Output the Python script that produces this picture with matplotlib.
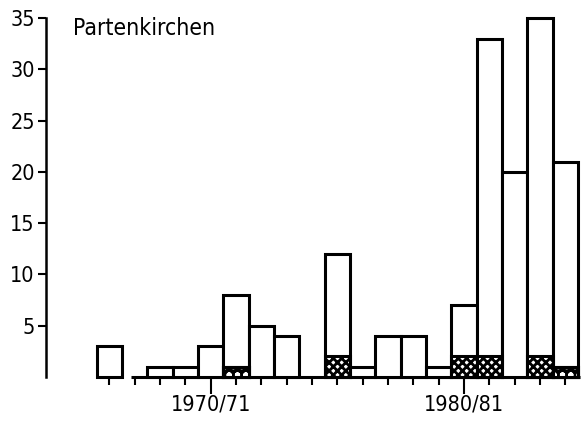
import matplotlib
matplotlib.use("Agg")
import matplotlib.pyplot as plt
from matplotlib.ticker import FixedLocator

# Season start years (1966 -> 1966/67)
seasons = [1966, 1967, 1968, 1969, 1970, 1971, 1972, 1973, 1974, 1975,
           1976, 1977, 1978, 1979, 1980, 1981, 1982, 1983, 1984]
totals = [3, 0, 1, 1, 3, 8, 5, 4, 0, 12, 1, 4, 4, 1, 7, 33, 20, 35, 21]
dense_part = [0, 0, 0, 0, 0, 0, 0, 0, 0, 2, 0, 0, 0, 0, 2, 2, 0, 2, 0]
circle_part = [0, 0, 0, 0, 0, 1, 0, 0, 0, 0, 0, 0, 0, 0, 0, 0, 0, 0, 1]
y_ticks = [5, 10, 15, 20, 25, 30, 35]
x_major = [1970, 1980]
x_major_labels = ["1970/71", "1980/81"]
title = "Partenkirchen"

plt.rcParams['font.family'] = ['DejaVu Sans']
plt.rcParams['font.stretch'] = 'condensed'

fig = plt.figure(figsize=(5.81, 4.21), dpi=100)
ax = fig.add_axes([46 / 581, 44 / 421, 535 / 581, 359 / 421])

lw = 2.2
xs = [s for s, t in zip(seasons, totals) if t > 0]
hs = [t for t in totals if t > 0]
ax.bar(xs, hs, width=1.0, color="white", edgecolor="black", linewidth=lw,
       clip_on=False, zorder=2)

plt.rcParams['hatch.linewidth'] = 2.0
dx = [s for s, d in zip(seasons, dense_part) if d > 0]
dh = [d for d in dense_part if d > 0]
ax.bar(dx, dh, width=1.0, color="white", edgecolor="black", linewidth=lw,
       hatch="xxxx", clip_on=False, zorder=3)

plt.rcParams['hatch.linewidth'] = 1.4
cx = [s for s, c in zip(seasons, circle_part) if c > 0]
ch = [c for c in circle_part if c > 0]
ax.bar(cx, ch, width=1.0, color="black", edgecolor="black", linewidth=lw,
       clip_on=False, zorder=3)
ax.bar(cx, ch, width=1.0, color="none", edgecolor="white", linewidth=0,
       hatch="oo", clip_on=False, zorder=4)
ax.bar(cx, ch, width=1.0, color="none", edgecolor="black", linewidth=lw,
       clip_on=False, zorder=5)

# baseline
ax.hlines(0, seasons[1] - 0.15, seasons[-1] + 0.6, color="black",
          linewidth=lw, clip_on=False, zorder=1)

ax.set_xlim(1963.5, 1984.62)
ax.set_ylim(0, 35)

for s in ["top", "right", "bottom"]:
    ax.spines[s].set_visible(False)
ax.spines["left"].set_linewidth(1.8)

ax.set_yticks(y_ticks)
ax.set_yticklabels([str(v) for v in y_ticks])
ax.tick_params(axis="y", direction="out", length=6, width=1.5, pad=2,
               labelsize=15.5)

ax.set_xticks(x_major)
ax.set_xticklabels(x_major_labels)
ax.xaxis.set_minor_locator(FixedLocator([s for s in seasons if s not in x_major]))
ax.tick_params(axis="x", which="major", direction="out", length=12.5,
               width=1.5, pad=0, labelsize=15.5)
ax.tick_params(axis="x", which="minor", direction="out", length=6, width=1.5)

fig.text(73 / 581, 1 - 35 / 421, title, fontsize=16.5, ha="left",
         va="baseline")

fig.savefig("out.png", dpi=100)
